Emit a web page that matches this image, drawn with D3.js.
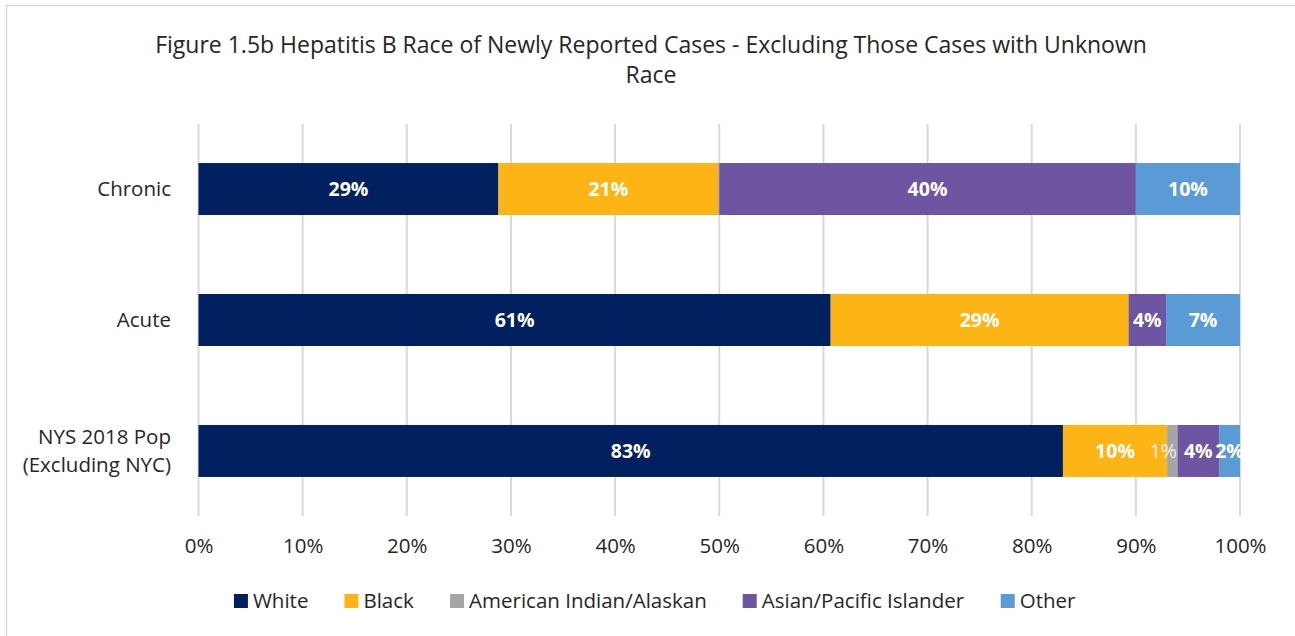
<!DOCTYPE html>
<html>
<head>
<meta charset="utf-8">
<script src="https://cdn.jsdelivr.net/npm/d3@7"></script>
<style>
	body { margin: 0; background: #fff; }
	svg { display: block; font-family: "Open Sans", "Noto Sans", sans-serif; }
</style>
</head>
<body>
<div id="chart"></div>
<script>
// data (percent of cases)
const categories = ['Chronic', 'Acute', 'NYS 2018 Pop|(Excluding NYC)'];
const races = ['White', 'Black', 'American Indian/Alaskan', 'Asian/Pacific Islander', 'Other'];
const race_colors = ['#002060', '#FDB515', '#A5A5A5', '#6D55A2', '#5B9BD5'];

const white = [28.8, 60.7, 83.0];
const black = [21.1, 28.6, 10.0];
const american_indian = [0.1, 0.0, 1.0];
const asian = [40.0, 3.6, 4.0];
const other = [10.0, 7.1, 2.0];

const x_ticks = [0, 10, 20, 30, 40, 50, 60, 70, 80, 90, 100];

const title_lines = [
	'Figure 1.5b Hepatitis B Race of Newly Reported Cases - Excluding Those Cases with Unknown',
	'Race'
];

const WIDTH = 1295;
const HEIGHT = 636;
const margin = {top: 124, right: 55, bottom: 120, left: 198.5};

const rows = categories.map((c, i) => ({
	category: c,
	values: [white[i], black[i], american_indian[i], asian[i], other[i]]
}));

const svg = d3.select('#chart')
	.append('svg')
	.attr('width', WIDTH)
	.attr('height', HEIGHT);

// chart frame
svg.append('rect')
	.attr('x', 6.5)
	.attr('y', 5.5)
	.attr('width', WIDTH + 20)
	.attr('height', HEIGHT + 20)
	.attr('fill', 'none')
	.attr('stroke', '#D9D9D9')
	.attr('stroke-width', 1.5);

// title
svg.append('text')
	.attr('x', 651)
	.attr('y', 53)
	.attr('text-anchor', 'middle')
	.attr('font-size', 23)
	.attr('fill', '#262626')
	.selectAll('tspan')
	.data(title_lines)
	.join('tspan')
	.attr('x', 651)
	.attr('dy', (d, i) => i === 0 ? 0 : 30)
	.text(d => d);

const xScale = d3.scaleLinear()
	.domain([0, 100])
	.range([margin.left, WIDTH - margin.right]);

const yScale = d3.scaleBand()
	.domain(categories)
	.range([margin.top, HEIGHT - margin.bottom])
	.paddingInner(0.603)
	.paddingOuter(0.298);

// grid lines
svg.append('g')
	.selectAll('line')
	.data(x_ticks)
	.join('line')
	.attr('x1', d => xScale(d))
	.attr('x2', d => xScale(d))
	.attr('y1', margin.top)
	.attr('y2', HEIGHT - margin.bottom)
	.attr('stroke', '#D9D9D9')
	.attr('stroke-width', 2);

// x axis labels
const xAxis = d3.axisBottom(xScale)
	.tickValues(x_ticks)
	.tickFormat(d => d + '%')
	.tickSize(0)
	.tickPadding(0);

const gx = svg.append('g')
	.attr('transform', `translate(0, ${HEIGHT - margin.bottom + 22})`)
	.call(xAxis);

gx.select('.domain').remove();
gx.selectAll('text')
	.attr('font-size', 20.5)
	.attr('font-family', '"Open Sans", "Noto Sans", sans-serif')
	.attr('fill', '#262626');

// category labels
svg.append('g')
	.selectAll('text')
	.data(categories)
	.join('text')
	.attr('text-anchor', 'end')
	.attr('font-size', 20.5)
	.attr('fill', '#262626')
	.each(function(d) {
		const lines = d.split('|');
		const cy = yScale(d) + yScale.bandwidth() / 2;
		const start = cy + 7 - (lines.length - 1) * 14;

		d3.select(this)
			.selectAll('tspan')
			.data(lines)
			.join('tspan')
			.attr('x', 171)
			.attr('y', (l, i) => start + i * 28)
			.text(l => l);
	});

// stacked bars
const segments = [];
rows.forEach(row => {
	let acc = 0;
	row.values.forEach((v, k) => {
		segments.push({category: row.category, k, value: v, x0: acc, x1: acc + v});
		acc += v;
	});
});

svg.append('g')
	.selectAll('rect')
	.data(segments)
	.join('rect')
	.attr('x', d => xScale(d.x0))
	.attr('y', d => yScale(d.category))
	.attr('width', d => Math.max(0, xScale(d.x1) - xScale(d.x0)))
	.attr('height', yScale.bandwidth())
	.attr('fill', d => race_colors[d.k]);

// data labels
svg.append('g')
	.selectAll('text')
	.data(segments.filter(d => d.value >= 0.5))
	.join('text')
	.attr('x', d => (xScale(d.x0) + xScale(d.x1)) / 2 - (d.k === 2 ? 9 : 0))
	.attr('y', d => yScale(d.category) + yScale.bandwidth() / 2 + 7)
	.attr('text-anchor', 'middle')
	.attr('font-size', 19.5)
	.attr('font-weight', d => d.k === 2 ? 'normal' : 'bold')
	.attr('fill', d => d.k === 2 ? '#F2F2F2' : '#FFFFFF')
	.text(d => Math.round(d.value) + '%');

// legend
const legend = svg.append('g')
	.attr('transform', `translate(0, ${HEIGHT - 28})`);

const items = legend.selectAll('g')
	.data(races)
	.join('g');

items.append('rect')
	.attr('width', 14)
	.attr('height', 14)
	.attr('y', -14)
	.attr('fill', (d, i) => race_colors[i]);

items.append('text')
	.attr('x', 19)
	.attr('y', 0)
	.attr('font-size', 20.5)
	.attr('fill', '#262626')
	.text(d => d);

let offset = 0;
const widths = [];
items.each(function() {
	widths.push(this.getBBox().width);
});
const gap = 36;
const total = d3.sum(widths) + gap * (widths.length - 1);
offset = 655 - total / 2;
items.attr('transform', (d, i) => {
	const t = `translate(${offset}, 0)`;
	offset += widths[i] + gap;
	return t;
});
</script>
</body>
</html>
